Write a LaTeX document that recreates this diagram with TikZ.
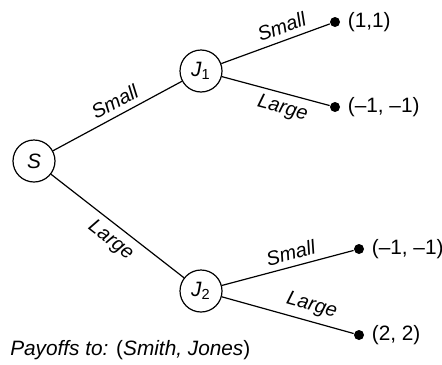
\documentclass[tikz,border=0pt]{standalone}
\usepackage{fontspec}
\setmainfont{Liberation Sans}
\usetikzlibrary{positioning}

\tikzset{
  player/.style={draw, circle, minimum size=21pt, inner sep=0pt},
  leaf/.style={fill=black, circle, minimum size=5pt, inner sep=0pt},
  move/.style={sloped, font=\itshape, inner sep=3pt}
}

\begin{document}
\begin{tikzpicture}[x=0.5pt, y=-0.5pt, line width=0.6pt,
    font=\fontsize{10.4}{12.5}\selectfont]
  \useasboundingbox (0,0) rectangle (442,364);

  % players
  \node[player] (S) at (34,161) {\textit{S}};
  \node[player] (J1) at (201,71) {\textit{J}\textsubscript{1}};
  \node[player] (J2) at (201,291) {\textit{J}\textsubscript{2}};

  % end points with their payoffs
  \node[leaf] (L1) at (335,22) {};
  \node[leaf] (L2) at (335,107) {};
  \node[leaf] (L3) at (359,249) {};
  \node[leaf] (L4) at (359,335) {};
  \node[right=0pt of L1] (P1) {(1,1)};
  \node[right=0pt of L2] (P2) {(--1, --1)};
  \node[right=0pt of L3] (P3) {(--1, --1)};
  \node[right=0pt of L4] (P4) {(2, 2)};

  % moves
  \draw (S) -- node[move, above, pos=0.53] {Small} (J1);
  \draw (S) -- node[move, below, pos=0.52] {Large} (J2);
  \draw (J1) -- node[move, above, pos=0.6] {Small} (L1);
  \draw (J1) -- node[move, below, pos=0.6] {Large} (L2);
  \draw (J2) -- node[move, above, pos=0.55] {Small} (L3);
  \draw (J2) -- node[move, above, pos=0.65] {Large} (L4);

  \node[anchor=west] (key) at (3,350)
    {\textit{Payoffs to:} (\textit{Smith, Jones})};
\end{tikzpicture}
\end{document}
